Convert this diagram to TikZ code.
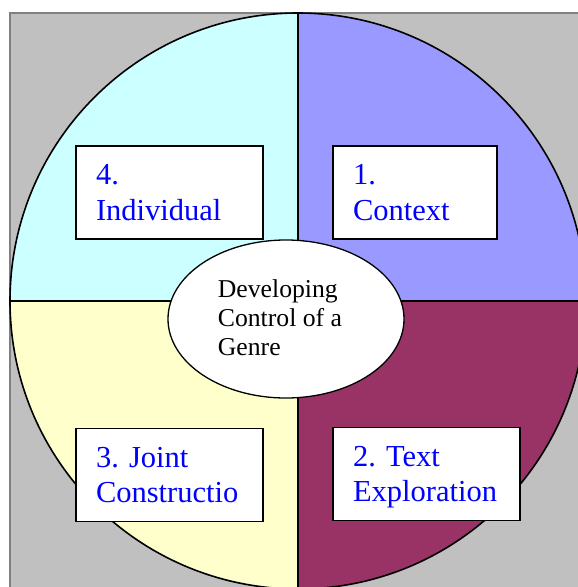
\documentclass[tikz,border=0pt]{standalone}
\usepackage{fontspec}
\setmainfont{Liberation Serif}
\usepackage{xcolor}
\usetikzlibrary{shapes.geometric}
\definecolor{quadcyan}{HTML}{CCFFFF}
\definecolor{quadblue}{HTML}{9999FF}
\definecolor{quadyellow}{HTML}{FFFFCC}
\definecolor{quadplum}{HTML}{993366}
\definecolor{panelgray}{HTML}{C0C0C0}
\definecolor{framegray}{HTML}{808080}
\frenchspacing
% two lines of a stage, with fixed top and bottom
\newcommand{\stagelines}[2]{\rule{0pt}{28pt}#1\\#2\rule[-8pt]{0pt}{8pt}}

\begin{document}
\begin{tikzpicture}[x=1pt,y=-1pt,
  stagebox/.style={draw=black,line width=1.6pt,fill=white,minimum height=93pt,
    inner xsep=20pt,align=left,text=blue,font=\fontsize{30.5}{35.5}\selectfont},
  coretext/.style={font=\fontsize{25.7}{29}\selectfont,align=left}]
\useasboundingbox (0,0) rectangle (578,587);
\clip (0,0) rectangle (578,587);
% grey panel
\fill[panelgray] (10,13) rectangle (620,620);
\draw[framegray,line width=2pt] (10,620) -- (10,13) -- (620,13);
% the wheel
\node[circle,minimum size=576pt,inner sep=0pt] (wheel) at (298,301) {};
\fill[quadcyan] (wheel.center) -- (wheel.west) arc[start angle=180,end angle=270,radius=288] -- cycle;
\fill[quadblue] (wheel.center) -- (wheel.north) arc[start angle=270,end angle=360,radius=288] -- cycle;
\fill[quadplum] (wheel.center) -- (wheel.east) arc[start angle=0,end angle=90,radius=288] -- cycle;
\fill[quadyellow] (wheel.center) -- (wheel.south) arc[start angle=90,end angle=180,radius=288] -- cycle;
\draw[line width=1.6pt] (wheel.center) circle[radius=288];
\draw[line width=1.6pt] (wheel.north) -- (wheel.south);
\draw[line width=1.6pt] (wheel.west) -- (wheel.east);
% centre
\node[ellipse,draw,line width=1.3pt,fill=white,minimum width=236pt,minimum height=158pt]
  (core) at (286,319) {};
\node[coretext] (corelabel) at (280,318) {Developing\\Control of a\\Genre};
% the four stages
\node[stagebox,minimum width=164pt,text width=124pt] (context) at (415,192.5) {\stagelines{1.}{Context}};
\node[stagebox,minimum width=187pt,text width=147pt] (explore) at (426.5,474) {\stagelines{2. Text}{Exploration}};
\node[stagebox,minimum width=187pt,text width=147pt] (joint) at (169.5,475) {\stagelines{3. Joint}{Constructio}};
\node[stagebox,minimum width=187pt,text width=147pt] (alone) at (169.5,192.5) {\stagelines{4.}{Individual}};
\end{tikzpicture}
\end{document}
